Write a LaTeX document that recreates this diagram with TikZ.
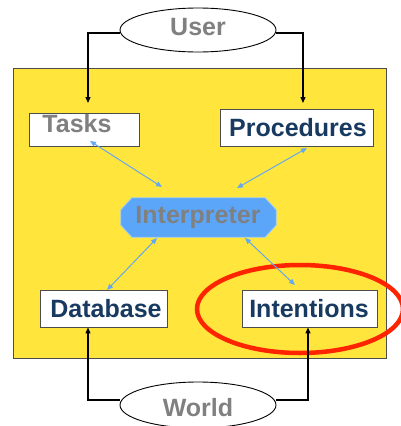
\documentclass[tikz,border=0pt]{standalone}
\usepackage{fontspec}
\setmainfont{Liberation Sans}
\usetikzlibrary{shapes.geometric,arrows.meta}
\definecolor{panel}{RGB}{255,229,60}
\definecolor{interp}{RGB}{92,166,250}
\definecolor{interpedge}{RGB}{160,205,250}
\definecolor{link}{RGB}{100,168,240}
\definecolor{greytext}{RGB}{128,128,128}
\definecolor{navytext}{RGB}{24,58,96}
\definecolor{mark}{RGB}{255,36,0}
\tikzset{
  lbl/.style={font=\fontsize{25}{30}\selectfont\bfseries, inner sep=0pt},
  greylbl/.style={lbl, text=greytext},
  navylbl/.style={lbl, text=navytext},
  box/.style={draw=black!70, fill=white, line width=0.9pt, inner sep=0pt},
  actor/.style={ellipse, draw=black, line width=0.9pt, fill=white, inner sep=0pt},
  flow/.style={-{Triangle[length=6pt,width=5pt]}, line width=1.2pt, black},
  link/.style={{Triangle[length=6pt,width=5pt]}-{Triangle[length=6pt,width=5pt]}, draw=link, line width=1pt},
}
\begin{document}
\begin{tikzpicture}[x=1pt,y=-1pt]
\useasboundingbox (0,0) rectangle (400,426);
% yellow panel
\node[draw=black!70, fill=panel, line width=1pt, minimum width=373pt, minimum height=290pt, inner sep=0pt] (panel) at (199.5,213) {};
% the four stores
\node[box, minimum width=110pt, minimum height=33pt] (tasks) at (84,129.5) {};
\node[greylbl] (taskst) at (77,124) {Tasks};
\node[box, minimum width=153pt, minimum height=37pt] (proc) at (296.5,127.5) {};
\node[navylbl] (proct) at (298,127.5) {Procedures};
\node[box, minimum width=127pt, minimum height=37pt] (db) at (103.5,308.5) {};
\node[navylbl] (dbt) at (106,308.5) {Database};
\node[box, minimum width=135pt, minimum height=37pt] (int) at (309.5,308.5) {};
\node[navylbl] (intt) at (309,308.5) {Intentions};
% interpreter: an octagon with cut corners
\node[minimum width=155pt, minimum height=39pt, inner sep=0pt] (interp) at (198.5,217.5) {};
\filldraw[fill=interp, draw=interpedge, line width=0.8pt]
  ([xshift=11pt]interp.north west) -- ([xshift=-11pt]interp.north east)
  -- ([yshift=-12pt]interp.north east) -- ([yshift=12pt]interp.south east)
  -- ([xshift=-11pt]interp.south east) -- ([xshift=11pt]interp.south west)
  -- ([yshift=12pt]interp.south west) -- ([yshift=-12pt]interp.north west) -- cycle;
\node[greylbl] (interpt) at (198,217) {Interpreter};
% highlight ring
\node[ellipse, draw=mark, line width=4.5pt, minimum width=206pt, minimum height=88pt, inner sep=0pt] (ring) at (300,309) {};
% outside actors
\node[actor, minimum width=156pt, minimum height=44pt] (user) at (198,30) {};
\node[greylbl] (usert) at (198,27) {User};
\node[actor, minimum width=156pt, minimum height=46pt] (world) at (198,405) {};
\node[greylbl] (worldt) at (198,408) {World};
% corners of the outer connectors
\coordinate (ul) at (88,33);
\coordinate (ur) at (303,33);
\coordinate (wl) at (88,400);
\coordinate (wr) at (308,400);
\draw[flow] (user.west |- ul) -- (ul) -- (88,103);
\draw[flow] (user.east |- ur) -- (ur) -- (303,103);
\draw[flow] (world.west |- wl) -- (wl) -- (db.south -| wl);
\draw[flow] (world.east |- wr) -- (wr) -- (int.south -| wr);
% links to the interpreter
\draw[link] (90,141) -- (162,187);
\draw[link] (307,148) -- (237,188);
\draw[link] (157,238) -- (107,290);
\draw[link] (245,238) -- (295,285);
\end{tikzpicture}
\end{document}
